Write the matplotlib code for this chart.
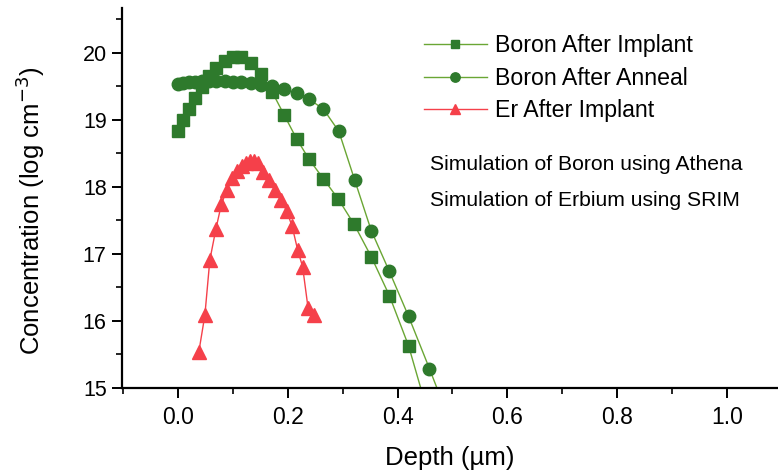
import matplotlib
matplotlib.use("Agg")
import matplotlib.pyplot as plt
from matplotlib.ticker import MultipleLocator

plt.rcParams['font.family'] = ['Liberation Sans', 'DejaVu Sans']

# Boron after implant (Athena)
b_imp_x = [0.0, 0.009, 0.02, 0.031, 0.043, 0.056, 0.07, 0.085, 0.1, 0.115, 0.133,
           0.152, 0.172, 0.193, 0.216, 0.239, 0.265, 0.292, 0.321, 0.352, 0.385, 0.42, 0.458]
b_imp_y = [18.84, 19.0, 19.16, 19.33, 19.49, 19.66, 19.78, 19.88, 19.94, 19.94, 19.85,
           19.68, 19.41, 19.08, 18.72, 18.41, 18.12, 17.82, 17.44, 16.96, 16.38, 15.63, 14.55]

# Boron after anneal
b_ann_x = [0.0, 0.009, 0.02, 0.031, 0.043, 0.056, 0.07, 0.085, 0.1, 0.115, 0.133,
           0.152, 0.172, 0.193, 0.216, 0.239, 0.265, 0.293, 0.322, 0.352, 0.385, 0.42, 0.458, 0.5]
b_ann_y = [19.53, 19.55, 19.56, 19.57, 19.58, 19.58, 19.58, 19.58, 19.57, 19.56, 19.55,
           19.52, 19.50, 19.46, 19.40, 19.31, 19.16, 18.83, 18.10, 17.35, 16.74, 16.07, 15.29, 14.4]

# Er after implant (SRIM)
er_x = [0.038, 0.049, 0.058, 0.069, 0.079, 0.089, 0.099, 0.108, 0.116, 0.124, 0.131,
        0.138, 0.146, 0.155, 0.166, 0.177, 0.188, 0.198, 0.208, 0.218, 0.227, 0.237, 0.248]
er_y = [15.54, 16.09, 16.91, 17.37, 17.74, 17.96, 18.13, 18.24, 18.31, 18.36, 18.39,
        18.39, 18.35, 18.23, 18.10, 17.96, 17.81, 17.64, 17.41, 17.06, 16.81, 16.19, 16.09]

labels = ["Boron After Implant", "Boron After Anneal", "Er After Implant"]
notes = ["Simulation of Boron using Athena", "Simulation of Erbium using SRIM"]

dark_green = "#2e7a2c"
line_green = "#6aa634"
red = "#f5404a"

fig = plt.figure(figsize=(7.78, 4.74), dpi=100)
ax = fig.add_axes([122/778, 86/474, 1 - 122/778, (388 - 8)/474])

ax.plot(b_imp_x, b_imp_y, '-', color=line_green, lw=1.0, marker='s', ms=8.5,
        mfc=dark_green, mec=dark_green, label=labels[0])
ax.plot(b_ann_x, b_ann_y, '-', color=line_green, lw=1.0, marker='o', ms=9,
        mfc=dark_green, mec=dark_green, label=labels[1])
ax.plot(er_x, er_y, '-', color=red, lw=1.0, marker='^', ms=9.5,
        mfc=red, mec=red, label=labels[2])

ax.set_xlim(-0.102, 1.093)
ax.set_ylim(15, 20.67)
ax.spines['top'].set_visible(False)
ax.spines['right'].set_visible(False)
ax.spines['left'].set_linewidth(1.6)
ax.spines['bottom'].set_linewidth(1.6)

ax.xaxis.set_major_locator(MultipleLocator(0.2))
ax.xaxis.set_minor_locator(MultipleLocator(0.1))
ax.yaxis.set_major_locator(MultipleLocator(1))
ax.yaxis.set_minor_locator(MultipleLocator(0.5))
ax.xaxis.set_major_formatter(plt.FormatStrFormatter('%.1f'))
ax.yaxis.set_major_formatter(plt.FormatStrFormatter('%d'))
ax.tick_params(axis='both', which='major', direction='out', length=7, width=1.4, pad=4)
ax.tick_params(axis='x', which='major', labelsize=16.5, pad=6)
ax.tick_params(axis='y', which='major', labelsize=15.5)
ax.tick_params(axis='both', which='minor', direction='out', length=4, width=1.2)

ax.set_xlabel("Depth (\u00b5m)", fontsize=18.5, labelpad=12)
ax.set_ylabel("Concentration (log cm$^{-3}$)", fontsize=18.5)
ax.yaxis.set_label_coords(-0.114, 0.466)

leg = ax.legend(loc='upper left', bbox_to_anchor=(424/778, 1 - 34/474),
                bbox_transform=fig.transFigure, frameon=False, fontsize=16.7,
                handlelength=2.7, handletextpad=0.35, labelspacing=0.42,
                borderpad=0, borderaxespad=0, markerscale=0.75)

fig.text(430/778, 1 - 164/474, notes[0], fontsize=15.2, va='center', ha='left')
fig.text(430/778, 1 - 201/474, notes[1], fontsize=15.2, va='center', ha='left')

fig.savefig("out.png", dpi=100, facecolor='white')
